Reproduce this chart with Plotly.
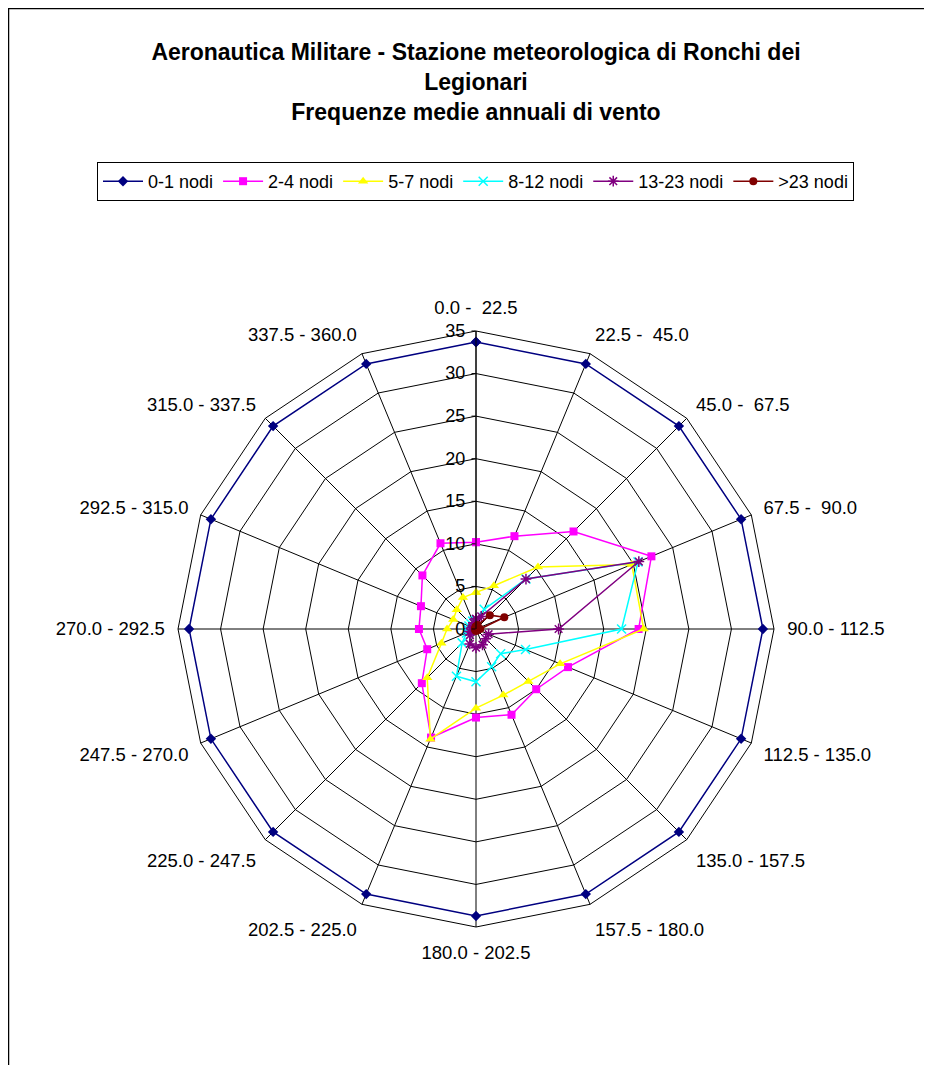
import plotly.graph_objects as go

sectors = ["0.0 -  22.5", "22.5 -  45.0", "45.0 -  67.5", "67.5 -  90.0",
           "90.0 - 112.5", "112.5 - 135.0", "135.0 - 157.5", "157.5 - 180.0",
           "180.0 - 202.5", "202.5 - 225.0", "225.0 - 247.5", "247.5 - 270.0",
           "270.0 - 292.5", "292.5 - 315.0", "315.0 - 337.5", "337.5 - 360.0"]

nodi_0_1 = [33.7] * 16
nodi_2_4 = [10.2, 11.8, 16.2, 22.3, 19.1, 11.7, 10.0, 10.9, 10.4, 13.8, 9.0, 6.2, 6.7, 7.0, 8.9, 10.9]
nodi_5_7 = [4.3, 5.5, 10.3, 19.8, 19.7, 10.7, 8.7, 8.4, 9.3, 14.0, 8.1, 4.4, 3.4, 2.9, 3.2, 4.0]
nodi_8_12 = [1.0, 2.5, 8.3, 20.6, 17.1, 6.3, 4.1, 4.8, 6.2, 6.0, 2.3, 1.2, 1.0, 0.9, 0.9, 1.0]
nodi_13_23 = [1.2, 1.6, 8.3, 20.7, 9.7, 1.6, 1.6, 2.0, 2.2, 1.9, 1.0, 0.8, 0.5, 0.5, 0.5, 0.8]
nodi_gt23 = [0.3, 0.5, 2.3, 3.6, 0.5, 0.2, 0.2, 0.2, 0.2, 0.2, 0.1, 0.1, 0.1, 0.1, 0.1, 0.2]

series = [
    ("0-1 nodi", nodi_0_1, "#000080", "diamond", 8),
    ("2-4 nodi", nodi_2_4, "#FF00FF", "square", 8),
    ("5-7 nodi", nodi_5_7, "#FFFF00", "triangle-up", 9),
    ("8-12 nodi", nodi_8_12, "#00FFFF", "x-thin-open", 9),
    ("13-23 nodi", nodi_13_23, "#800080", "asterisk-open", 9),
    (">23 nodi", nodi_gt23, "#800000", "circle", 8),
]

labels = [s.replace("  ", " \u00a0") for s in sectors]

W, H = 918, 1065

fig = go.Figure()
for name, vals, color, sym, size in series:
    open_sym = sym.endswith("open")
    fig.add_trace(go.Scatterpolar(
        r=vals + vals[:1],
        theta=labels + labels[:1],
        mode="lines+markers",
        name=name,
        line=dict(color=color, width=1.5),
        marker=dict(symbol=sym, size=size, color=color,
                    line=dict(color=color, width=1.5 if open_sym else 0)),
    ))

fig.update_layout(
    width=W, height=H,
    margin=dict(l=0, r=0, t=0, b=0),
    paper_bgcolor="white",
    plot_bgcolor="white",
    font=dict(family="Liberation Sans, Arial, sans-serif", size=18, color="black"),
    title=dict(
        text="<b>Aeronautica Militare - Stazione meteorologica di Ronchi dei<br>Legionari<br>Frequenze medie annuali di vento</b>",
        x=468 / W, xanchor="center", y=1 - 52 / H, yanchor="top",
        font=dict(size=23, family="Liberation Sans, Arial, sans-serif", color="black"),
    ),
    legend=dict(
        orientation="h", x=467.5 / W, xanchor="center", y=1 - 154 / H, yanchor="top",
        bordercolor="black", borderwidth=1, bgcolor="white",
        font=dict(size=18), itemwidth=40, tracegroupgap=0,
    ),
    polar=dict(
        domain=dict(x=[170 / W, 766 / W], y=[(H - 919) / H, (H - 323) / H]),
        bgcolor="white",
        gridshape="linear",
        radialaxis=dict(
            range=[0, 35], tickvals=[0, 5, 10, 15, 20, 25, 30, 35],
            angle=90, tickangle=90, side="counterclockwise",
            showline=True, linecolor="black", linewidth=1,
            gridcolor="black", gridwidth=1,
            ticks="outside", ticklen=4, tickcolor="black",
            tickfont=dict(size=18),
        ),
        angularaxis=dict(
            rotation=90, direction="clockwise",
            showline=True, linecolor="black", linewidth=1,
            gridcolor="black", gridwidth=1,
            ticks="outside", ticklen=9, tickcolor="rgba(0,0,0,0)",
            tickfont=dict(size=18.5),
        ),
    ),
    shapes=[dict(type="rect", xref="paper", yref="paper",
                 x0=0.5 / W, x1=1 - 0.5 / W, y0=-0.01, y1=1 - 0.5 / H,
                 line=dict(color="black", width=1.5), fillcolor="rgba(0,0,0,0)")],
)

fig.write_html("out.html")
